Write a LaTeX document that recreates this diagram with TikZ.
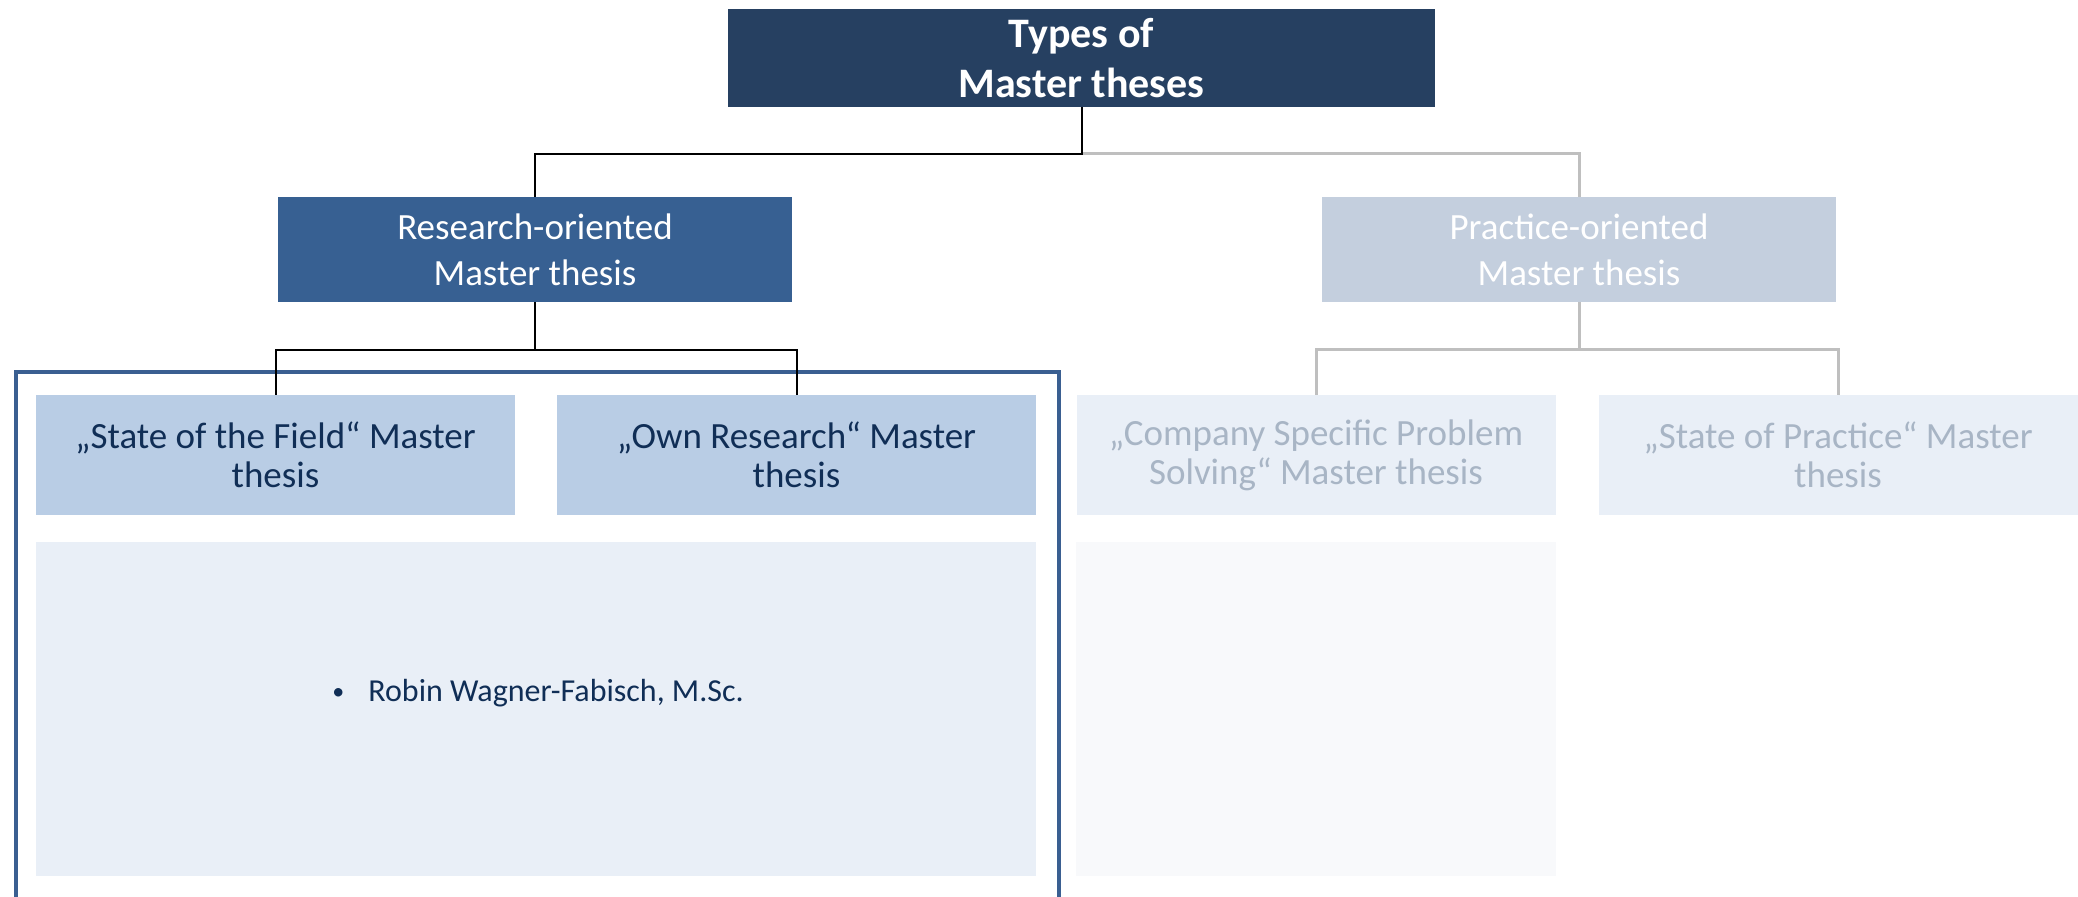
\documentclass[tikz,border=0pt]{standalone}
\usepackage{fontspec}
\setmainfont{Carlito}
\definecolor{topc}{RGB}{38,64,97}
\definecolor{resc}{RGB}{55,96,146}
\definecolor{pracc}{RGB}{196,207,222}
\definecolor{childc}{RGB}{185,205,229}
\definecolor{childtxt}{RGB}{16,46,86}
\definecolor{palec}{RGB}{233,239,247}
\definecolor{paletxt}{RGB}{168,181,197}
\definecolor{verypale}{RGB}{248,249,251}
\definecolor{grayline}{RGB}{191,191,191}
\definecolor{outline}{RGB}{58,95,145}
\tikzset{
  box/.style={rectangle, inner sep=0pt, align=center, draw=none},
  topbox/.style={box, fill=topc, text=white, minimum width=353.5pt, minimum height=49pt,
    font=\fontsize{21}{25}\selectfont\bfseries},
  midbox/.style={box, minimum width=257pt, minimum height=52.5pt,
    font=\fontsize{18.5}{23}\selectfont},
  childbox/.style={box, minimum width=239.5pt, minimum height=60pt,
    font=\fontsize{18.5}{19.5}\selectfont},
  blk/.style={draw=black, line width=1pt},
  gry/.style={draw=grayline, line width=1.5pt},
}
\begin{document}
\begin{tikzpicture}[x=0.5pt, y=-0.5pt]
\useasboundingbox (0,0) rectangle (2078,897);
\fill[white] (0,0) rectangle (2078,897);

\node[topbox] (top) at (1081.5,58) {Types of\\Master theses};
\node[midbox, fill=resc, text=white] (res) at (535,249.5) {Research-oriented\\Master thesis};
\node[midbox, fill=pracc, text=white] (prac) at (1579,249.5) {Practice-oriented\\Master thesis};

\node[childbox, fill=childc, text=childtxt] (sf) at (275.5,455) {„State of the Field“ Master\\thesis};
\node[childbox, fill=childc, text=childtxt] (or) at (796.5,455) {„Own Research“ Master\\thesis};
\node[childbox, fill=palec, text=paletxt] (cs) at (1316,455) {„Company Specific Problem\\Solving“ Master thesis};
\node[childbox, fill=palec, text=paletxt] (sp) at (1838,455) {„State of Practice“ Master\\thesis};

\node[box, fill=palec, minimum width=500pt, minimum height=167pt] (content) at (536,709) {};
\node[box, fill=verypale, minimum width=240pt, minimum height=167pt] (pale) at (1316,709) {};
\node[anchor=west, inner sep=0pt, text=childtxt, font=\fontsize{16}{19}\selectfont] (rob) at (332,693) {\raisebox{1pt}{\fontsize{12}{12}\selectfont•}\hspace{12pt}Robin Wagner-Fabisch, M.Sc.};

% outline around research children
\coordinate (olbl) at (16,910);
\coordinate (olbr) at (1059,910);
\draw[outline, line width=2pt] (olbl) -- (16,372) -- (1059,372) -- (olbr);

% connectors
\coordinate (j1) at (1081.5,154);
\draw[gry] (j1) -| (prac.north);
\draw[blk] (top.south) -- (j1) -| (res.north);

\coordinate (j2) at (535,350);
\draw[blk] (res.south) -- (j2);
\draw[blk] (sf.north) |- (j2) -| (or.north);

\coordinate (j3) at (1579,350);
\draw[gry] (prac.south) -- (j3);
\draw[gry] (cs.north) |- (j3) -| (sp.north);
\end{tikzpicture}
\end{document}
